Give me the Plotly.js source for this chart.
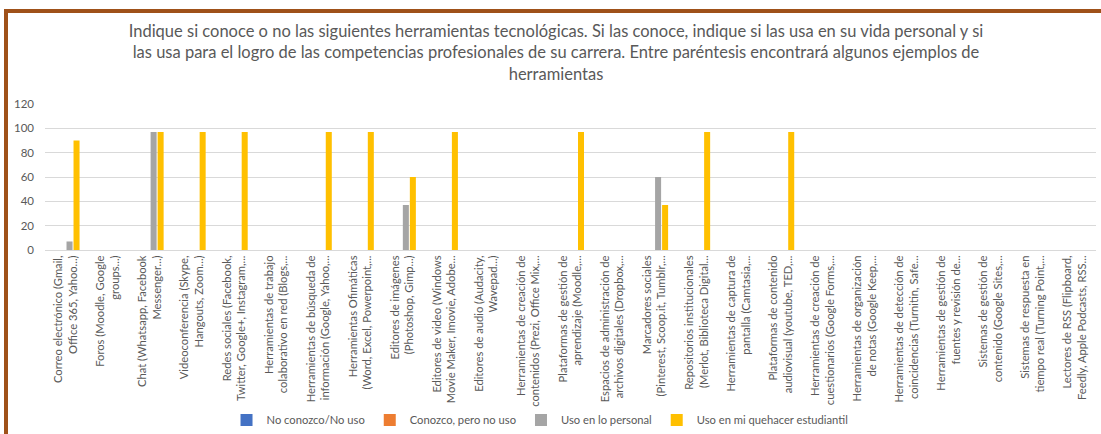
<!DOCTYPE html>
<html>
<head>
<meta charset="utf-8">
<script src="https://cdn.plot.ly/plotly-3.0.1.min.js"></script>
<style>
  html, body { margin: 0; padding: 0; background: #fff; overflow: hidden; }
  #wrap { position: relative; width: 1101px; height: 434px; overflow: hidden; }
  #chart { position: absolute; left: 0; top: 0; width: 1101px; height: 434px; }
  #frame { position: absolute; left: 4px; top: 9px; width: 1200px; height: 600px;
           border-top: 4px solid #9F5119; border-left: 4px solid #9F5119; pointer-events: none; }
</style>
</head>
<body>
<div id="wrap">
  <div id="chart"></div>
  <div id="frame"></div>
</div>
<script>
const categories = [
  "Correo electrónico (Gmail,<br>Office 365, Yahoo...)",
  "Foros (Moodle, Google<br>groups...)",
  "Chat (Whatsapp, Facebook<br>Messenger...)",
  "Videoconferencia (Skype,<br>Hangouts, Zoom...)",
  "Redes sociales (Facebook,<br>Twitter, Google+, Instagram,...",
  "Herramientas de trabajo<br>colaborativo en red (Blogs,...",
  "Herramientas de búsqueda de<br>información (Google, Yahoo,...",
  "Herramientas Ofimáticas<br>(Word, Excel, Powerpoint,...",
  "Editores de imágenes<br>(Photoshop, Gimp...)",
  "Editores de video (Windows<br>Movie Maker, Imovie, Adobe...",
  "Editores de audio (Audacity,<br>Wavepad...)",
  "Herramientas de creación de<br>contenidos (Prezi, Office Mix,...",
  "Plataformas de gestión de<br>aprendizaje (Moodle,...",
  "Espacios de administración de<br>archivos digitales (Dropbox,...",
  "Marcadores sociales<br>(Pinterest, Scoop.it, Tumblr,...",
  "Repositorios institucionales<br>(Merlot, Biblioteca Digital...",
  "Herramientas de captura de<br>pantalla (Camtasia,...",
  "Plataformas de contenido<br>audiovisual (youtube, TED,...",
  "Herramientas de creación de<br>cuestionarios (Google Forms,...",
  "Herramientas de organización<br>de notas (Google Keep,...",
  "Herramientas de detección de<br>coincidencias (Turnitin, Safe...",
  "Herramientas de gestión de<br>fuentes y revisión de...",
  "Sistemas de gestión de<br>contenido (Google Sites,...",
  "Sistemas de respuesta en<br>tiempo real (Turning Point,...",
  "Lectores de RSS (Flipboard,<br>Feedly, Apple Podcasts, RSS..."
];

const seriesNames = ["No conozco/No uso", "Conozco, pero no uso", "Uso en lo personal", "Uso en mi quehacer estudiantil"];

const noConozco   = [0,0,0,0,0,0,0,0,0,0,0,0,0,0,0,0,0,0,0,0,0,0,0,0,0];
const conozcoNoUso = [0,0,0,0,0,0,0,0,0,0,0,0,0,0,0,0,0,0,0,0,0,0,0,0,0];
const usoPersonal = [7,0,97,0,0,0,0,0,37,0,0,0,0,0,60,0,0,0,0,0,0,0,0,0,0];
const usoEstudiantil = [90,0,97,97,97,0,97,97,60,97,0,0,97,0,37,97,0,97,0,0,0,0,0,0,0];

const yTicks = [0, 20, 40, 60, 80, 100, 120];

const colors = ["#4472C4", "#ED7D31", "#A5A5A5", "#FFC000"];
const allSeries = [noConozco, conozcoNoUso, usoPersonal, usoEstudiantil];

const FONT = "Lato, 'Open Sans', sans-serif";

const traces = allSeries.map((vals, i) => ({
  type: "bar",
  name: seriesNames[i],
  x: categories,
  y: vals,
  marker: { color: colors[i], line: { width: 0 } },
  hoverinfo: "x+y+name"
}));

const layout = {
  width: 1101,
  height: 434,
  paper_bgcolor: "rgba(0,0,0,0)",
  plot_bgcolor: "#ffffff",
  font: { family: FONT, color: "#595959", size: 11 },
  margin: { l: 45, r: 5, t: 104, b: 184, pad: 0, autoexpand: false },
  title: {
    text: "Indique si conoce o no las siguientes herramientas tecnológicas. Si las conoce, indique si las usa en su vida personal y si<br>las usa para el logro de las competencias profesionales de su carrera. Entre paréntesis encontrará algunos ejemplos de<br>herramientas",
    font: { family: FONT, size: 16.5, color: "#595959" },
    x: 0.505, xanchor: "center",
    y: 1 - 37 / 434, yanchor: "top", yref: "container"
  },
  barmode: "group",
  bargap: 0.333,
  bargroupgap: 0.14,
  xaxis: {
    type: "category",
    tickangle: -90,
    tickfont: { family: FONT, size: 11.2, color: "#595959" },
    showgrid: false,
    showline: true,
    linecolor: "#D9D9D9",
    linewidth: 1,
    ticks: "",
    automargin: false
  },
  yaxis: {
    range: [0, 120],
    tickvals: yTicks,
    tickfont: { family: FONT, size: 11.5, color: "#595959" },
    showgrid: true,
    gridcolor: "#D9D9D9",
    gridwidth: 1,
    zeroline: false,
    showline: false,
    ticks: "",
    ticklabelstandoff: 10,
    automargin: false
  },
  legend: {
    orientation: "h",
    x: 0.471, xanchor: "center",
    y: -1.164, yanchor: "middle",
    font: { family: FONT, size: 11.2, color: "#595959" },
    itemwidth: 30,
    traceorder: "normal"
  },
  showlegend: true
};

Plotly.newPlot("chart", traces, layout, { displayModeBar: false, staticPlot: true });
</script>
</body>
</html>
